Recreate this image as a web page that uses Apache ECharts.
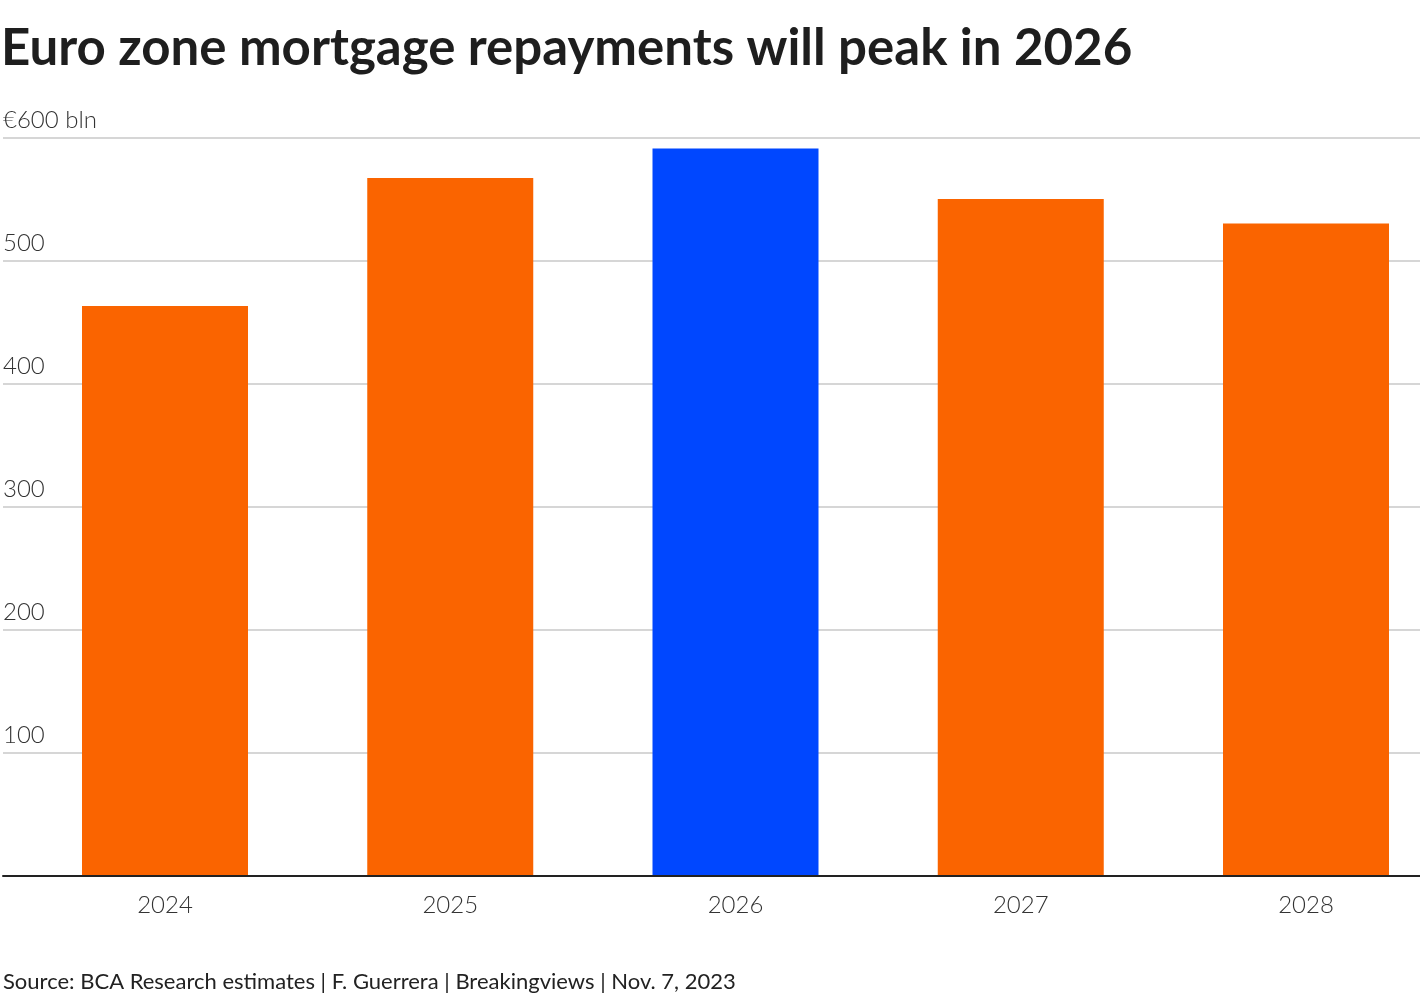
<!DOCTYPE html>
<html>
<head>
<meta charset="utf-8">
<script src="https://cdn.jsdelivr.net/npm/echarts@6/dist/echarts.min.js"></script>
<style>
html,body{margin:0;padding:0;background:#fff;}
#chart{width:1420px;height:1000px;}
</style>
</head>
<body>
<div id="chart"></div>
<script>
const titleText = 'Euro zone mortgage repayments will peak in 2026';
const sourceText = 'Source: BCA Research estimates | F. Guerrera | Breakingviews | Nov. 7, 2023';
const years = ['2024', '2025', '2026', '2027', '2028'];
const repayments = [463, 567, 591, 550, 530];
const highlightYear = '2026';
const yMax = 600;
const yStep = 100;
const unitLabel = '€600 bln';

const FONT = 'Lato, "Source Sans Pro", "Noto Sans", sans-serif';
const ORANGE = '#FA6400';
const BLUE = '#0047FF';

const chart = echarts.init(document.getElementById('chart'));
chart.setOption({
  animation: false,
  backgroundColor: '#fff',
  title: [
    { text: titleText, left: -4, top: 18,
      textStyle: { fontFamily: FONT, fontWeight: 'bold', fontSize: 51, color: '#1e1e1e' } },
    { text: sourceText, left: -2, top: 966,
      textStyle: { fontFamily: FONT, fontWeight: 'normal', fontSize: 22, color: '#222' } }
  ],
  grid: [
    { left: 0, right: 0, top: 137.5, bottom: 124.5 },
    { left: 165, right: 114, top: 137.5, bottom: 124.5 }
  ],
  xAxis: [
    { gridIndex: 0, type: 'category', data: [''],
      axisLine: { lineStyle: { color: '#222', width: 2 } },
      axisTick: { show: false }, axisLabel: { show: false }, z: 10 },
    { gridIndex: 1, type: 'category', data: years, boundaryGap: false,
      axisLine: { show: false }, axisTick: { show: false },
      axisLabel: { margin: 18, fontFamily: FONT, fontSize: 24, fontWeight: 300, color: '#333' } }
  ],
  yAxis: [
    { gridIndex: 0, type: 'value', min: 0, max: yMax, interval: yStep,
      axisLine: { show: false }, axisTick: { show: false },
      splitLine: { lineStyle: { color: '#c8c8c8', width: 1.5 } },
      axisLabel: { inside: true, margin: 0, verticalAlign: 'bottom', align: 'left',
        padding: [0, 0, 5, 0],
        fontFamily: FONT, fontSize: 24, fontWeight: 300, color: '#333',
        formatter: v => v === 0 ? '' : (v === yMax ? unitLabel : String(v)) } },
    { gridIndex: 1, type: 'value', min: 0, max: yMax, interval: yStep, show: false }
  ],
  series: [{
    type: 'bar', xAxisIndex: 1, yAxisIndex: 1,
    barWidth: 166, clip: false,
    data: repayments.map((v, i) => ({
      value: v,
      itemStyle: { color: years[i] === highlightYear ? BLUE : ORANGE }
    }))
  }]
});
</script>
</body>
</html>
